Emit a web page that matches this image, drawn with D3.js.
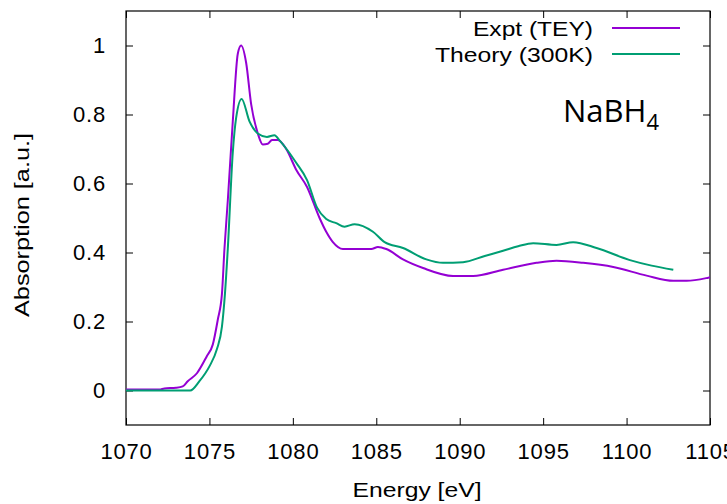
<!DOCTYPE html>
<html>
<head>
<meta charset="utf-8">
<script src="https://cdn.jsdelivr.net/npm/d3@7"></script>
<style>
  body { margin: 0; background: #fff; }
  svg { display: block; }
</style>
</head>
<body>
<svg id="chart"></svg>
<script>
// energies [eV] and absorption
var exptE = [1070, 1072, 1072.3, 1073.0, 1073.4, 1073.7, 1074.25, 1074.85, 1075.2, 1075.5, 1075.75, 1075.9,
  1076.1, 1076.4, 1076.7, 1076.9, 1077.2, 1077.5, 1077.9, 1078.2, 1078.5, 1078.75, 1079.1, 1079.6,
  1080.2, 1080.85, 1081.6, 1082.0, 1082.4, 1083.0, 1084.0, 1084.7, 1085.1, 1085.6, 1086.6, 1087.8,
  1089.6, 1090.8, 1092.6, 1094.6, 1095.8, 1097.4, 1099.2, 1101.2, 1102.8, 1103.6, 1104.9, 1105];
var exptA = [0.003, 0.003, 0.006, 0.008, 0.012, 0.027, 0.05, 0.10, 0.133, 0.205, 0.28, 0.41,
  0.55, 0.78, 0.976, 1.0, 0.95, 0.83, 0.745, 0.713, 0.715, 0.726, 0.726, 0.70,
  0.64, 0.59, 0.50, 0.46, 0.43, 0.41, 0.41, 0.41, 0.416, 0.41, 0.38, 0.355,
  0.332, 0.332, 0.35, 0.37, 0.376, 0.37, 0.358, 0.333, 0.318, 0.318, 0.327, 0.328];

var theoE = [1070, 1073.85, 1074.4, 1075.0, 1075.45, 1075.75, 1075.93, 1076.1, 1076.4, 1076.6, 1076.93,
  1077.4, 1077.9, 1078.45, 1078.9, 1079.2, 1079.7, 1080.2, 1080.85, 1081.45, 1082.0, 1082.6, 1083.1,
  1083.7, 1084.8, 1085.5, 1086.6, 1088.0, 1089.0, 1090.2, 1091.5, 1092.6, 1093.5, 1094.4, 1095.8,
  1096.8, 1098.2, 1100.2, 1101.5, 1102.8];
var theoA = [0, 0, 0.027, 0.07, 0.12, 0.185, 0.28, 0.41, 0.69, 0.79, 0.845,
  0.78, 0.745, 0.735, 0.74, 0.725, 0.695, 0.66, 0.61, 0.53, 0.497, 0.485, 0.475,
  0.482, 0.46, 0.43, 0.413, 0.38, 0.37, 0.372, 0.39, 0.405, 0.418, 0.427, 0.422,
  0.43, 0.413, 0.378, 0.362, 0.35];

var xTicks = [1070, 1075, 1080, 1085, 1090, 1095, 1100, 1105];
var yTicks = [0, 0.2, 0.4, 0.6, 0.8, 1];

var seriesNames = ['Expt (TEY)', 'Theory (300K)'];
var seriesColors = ['#9400d3', '#009e73'];

var width = 727, height = 504;
var margins = { top: 11, bottom: 79, left: 126, right: 17 };

var svg = d3.select('#chart').attr('width', width).attr('height', height);

var x = d3.scaleLinear().domain([1070, 1105]).range([margins.left, width - margins.right]);
var y = d3.scaleLinear().domain([-0.1, 1.1]).range([height - margins.bottom, margins.top]);

var font = 'Liberation Sans, Arial, sans-serif';

// axes, gnuplot style: inward ticks, mirrored on all sides
var tk = 7;
svg.append('g')
   .attr('transform', `translate(0,${y.range()[0]})`)
   .call(d3.axisBottom(x).tickValues(xTicks).tickFormat(d3.format('d')).tickSizeInner(-tk).tickSizeOuter(0).tickPadding(18))
   .call(g => g.select('.domain').remove());
svg.append('g')
   .attr('transform', `translate(0,${y.range()[1]})`)
   .call(d3.axisTop(x).tickValues(xTicks).tickFormat('').tickSizeInner(-tk).tickSizeOuter(0))
   .call(g => g.select('.domain').remove());
svg.append('g')
   .attr('transform', `translate(${x.range()[0]},0)`)
   .call(d3.axisLeft(y).tickValues(yTicks).tickFormat(d3.format('')).tickSizeInner(-tk).tickSizeOuter(0).tickPadding(20))
   .call(g => g.select('.domain').remove());
svg.append('g')
   .attr('transform', `translate(${x.range()[1]},0)`)
   .call(d3.axisRight(y).tickValues(yTicks).tickFormat('').tickSizeInner(-tk).tickSizeOuter(0))
   .call(g => g.select('.domain').remove());

svg.selectAll('.tick text')
   .attr('font-family', font)
   .attr('font-size', '22px')
   .attr('letter-spacing', '0.8px')
   .attr('fill', '#000');
svg.selectAll('.tick line').attr('stroke', '#000');

svg.append('rect')
   .attr('x', x.range()[0])
   .attr('y', y.range()[1])
   .attr('width', x.range()[1] - x.range()[0])
   .attr('height', y.range()[0] - y.range()[1])
   .attr('fill', 'none')
   .attr('stroke', '#000')
   .attr('stroke-width', 1.2);

// axis titles (the reference text is a bit wider than Arial, so stretch it)
svg.append('text')
   .attr('x', 417)
   .attr('y', 497)
   .attr('text-anchor', 'middle')
   .attr('font-family', font)
   .attr('font-size', '21px')
   .attr('textLength', 129)
   .attr('lengthAdjust', 'spacingAndGlyphs')
   .text('Energy [eV]');
svg.append('text')
   .attr('transform', `translate(29,225) rotate(-90)`)
   .attr('text-anchor', 'middle')
   .attr('font-family', font)
   .attr('font-size', '20px')
   .attr('textLength', 184)
   .attr('lengthAdjust', 'spacingAndGlyphs')
   .text('Absorption [a.u.]');

// curves
var line = d3.line()
   .curve(d3.curveMonotoneX)
   .x(d => x(d[0]))
   .y(d => y(d[1]));

var series = [d3.zip(exptE, exptA), d3.zip(theoE, theoA)];

svg.append('g').selectAll('path')
   .data(series)
   .enter()
   .append('path')
   .attr('fill', 'none')
   .attr('stroke', (d, i) => seriesColors[i])
   .attr('stroke-width', 2)
   .attr('stroke-linejoin', 'round')
   .attr('d', line);

// legend
var legendWidths = [120, 158];
var legend = svg.selectAll('.legend')
   .data(seriesNames)
   .enter()
   .append('g')
   .attr('class', 'legend')
   .attr('transform', (d, i) => `translate(0,${28 + i * 26})`);
legend.append('text')
   .attr('x', 593)
   .attr('dy', '0.36em')
   .attr('text-anchor', 'end')
   .attr('font-family', font)
   .attr('font-size', '21px')
   .attr('textLength', (d, i) => legendWidths[i])
   .attr('lengthAdjust', 'spacingAndGlyphs')
   .text(d => d);
legend.append('line')
   .attr('x1', 612)
   .attr('x2', 680)
   .attr('stroke', (d, i) => seriesColors[i])
   .attr('stroke-width', 2);

// compound label
var lab = svg.append('text')
   .attr('x', 563)
   .attr('y', 122)
   .attr('font-family', 'Open Sans, Noto Sans, sans-serif')
   .attr('font-size', '31px');
lab.append('tspan').text('NaBH');
lab.append('tspan').attr('font-size', '22px').attr('dy', 8).text('4');
</script>
</body>
</html>
